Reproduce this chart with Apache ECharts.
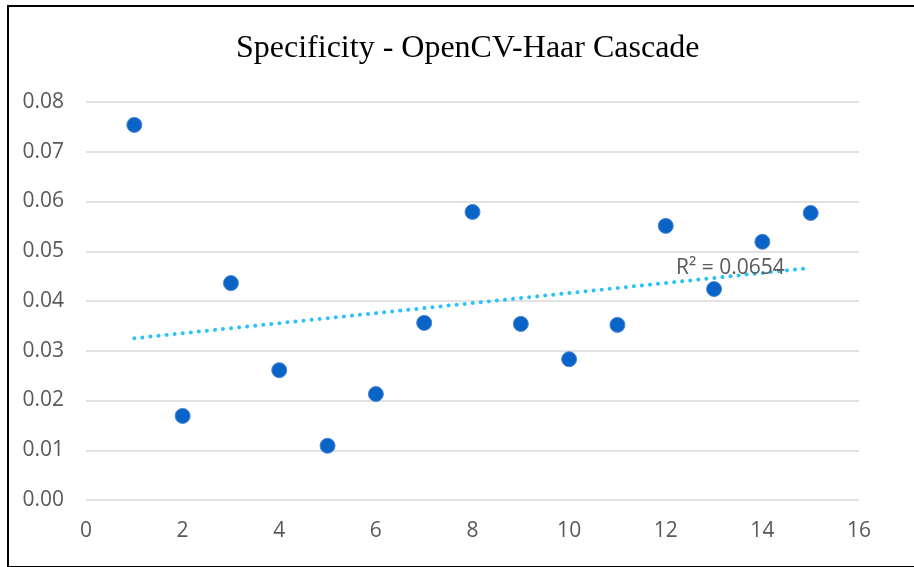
<!DOCTYPE html>
<html>
<head>
<meta charset="utf-8">
<script src="https://cdn.jsdelivr.net/npm/echarts@6/dist/echarts.min.js"></script>
<style>
  html, body { margin: 0; padding: 0; background: #fff; }
  #frame { position: absolute; left: 7px; top: 5px; width: 907px; height: 559px;
           border-left: 2px solid #000; border-top: 2px solid #000; border-bottom: 2px solid #000; box-sizing: content-box; }
  #chart { position: absolute; left: 0; top: 0; width: 914px; height: 567px; }
</style>
</head>
<body>
<div id="frame"></div>
<div id="chart"></div>
<script>
const titleText = 'Specificity - OpenCV-Haar Cascade';
const xValues = [1, 2, 3, 4, 5, 6, 7, 8, 9, 10, 11, 12, 13, 14, 15];
const yValues = [0.0754, 0.0169, 0.0436, 0.0261, 0.0109, 0.0213, 0.0356, 0.0579, 0.0354, 0.0283, 0.0352, 0.0551, 0.0424, 0.0519, 0.0577];
const r2Label = 'R² = 0.0654';

// linear least-squares trendline from the data
const n = xValues.length;
const mx = xValues.reduce((a, b) => a + b, 0) / n;
const my = yValues.reduce((a, b) => a + b, 0) / n;
let sxy = 0, sxx = 0;
for (let i = 0; i < n; i++) { sxy += (xValues[i] - mx) * (yValues[i] - my); sxx += (xValues[i] - mx) ** 2; }
const slope = sxy / sxx, intercept = my - slope * mx;
const xFirst = xValues[0], xLast = xValues[n - 1];
const trend = [[xFirst, intercept + slope * xFirst], [xLast, intercept + slope * xLast]];

const chart = echarts.init(document.getElementById('chart'), null, { renderer: 'canvas' });
const labelFont = { fontFamily: 'Open Sans', fontSize: 21, color: '#595959' };
chart.setOption({
  backgroundColor: 'transparent',
  animation: false,
  title: {
    text: titleText, left: 231, top: 28,
    textStyle: { fontFamily: 'Liberation Serif', fontSize: 32, fontWeight: 'normal', color: '#000' }
  },
  grid: { left: 86, right: 55, top: 102, bottom: 67 },
  xAxis: {
    type: 'value', min: 0, max: 16, interval: 2,
    axisLine: { show: false }, axisTick: { show: false }, splitLine: { show: false },
    axisLabel: Object.assign({ margin: 21 }, labelFont)
  },
  yAxis: {
    type: 'value', min: 0, max: 0.08, interval: 0.01,
    axisLine: { show: false }, axisTick: { show: false },
    splitLine: { lineStyle: { color: '#d9d9d9', width: 1.5 } },
    axisLabel: Object.assign({ margin: 22, formatter: v => v.toFixed(2) }, labelFont)
  },
  series: [
    {
      type: 'line', data: trend, symbol: 'none', silent: true, z: 1,
      lineStyle: { color: '#2bc3f7', width: 4, type: [0.1, 8], cap: 'round' }
    },
    {
      type: 'scatter', data: xValues.map((x, i) => [x, yValues[i]]), symbolSize: 15, z: 3,
      itemStyle: { color: '#0a63c7', borderColor: '#4a86d2', borderWidth: 1, opacity: 1 }
    }
  ],
  graphic: [{
    type: 'text', left: 676, top: 258, z: 5,
    style: { text: r2Label, font: '21px "Open Sans"', fill: '#595959' }
  }]
});
</script>
</body>
</html>
